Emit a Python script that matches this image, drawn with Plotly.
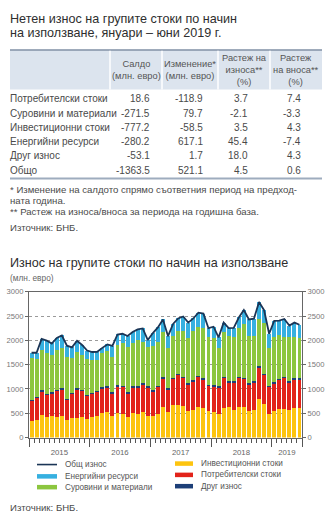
import plotly.graph_objects as go

W, H = 329, 531
FONT = "Liberation Sans, Arial, sans-serif"

# ---------------- table data ----------------
row_labels = ["Потребителски стоки", "Суровини и материали", "Инвестиционни стоки",
              "Енергийни ресурси", "Друг износ", "Общо"]
saldo = [18.6, -271.5, -777.2, -280.2, -53.1, -1363.5]
change = [-118.9, 79.7, -58.5, 617.1, 1.7, 521.1]
exp_growth = [3.7, -2.1, 3.5, 45.4, 18.0, 4.5]
imp_growth = [7.4, -3.3, 4.3, -7.4, 4.3, 0.6]
col_headers = ["Салдо<br>(млн. евро)", "Изменение*<br>(млн. евро)",
               "Растеж на<br>износа**<br>(%)", "Растеж<br>на вноса**<br>(%)"]

# ---------------- chart data ----------------
years = ["2015", "2016", "2017", "2018", "2019"]
months = [f"{y}-{m:02d}" for y in years for m in range(1, 13)][:54]

invest = [330, 370, 470, 415, 435, 430, 440, 355, 395, 410, 430, 390,
          420, 440, 495, 525, 440, 500, 490, 420, 505, 475, 520, 435,
          440, 490, 635, 520, 675, 670, 655, 540, 575, 620, 605, 540,
          520, 490, 600, 620, 560, 620, 620, 540, 575, 790, 695, 490,
          540, 595, 595, 560, 600, 600]
consumer = [438, 456, 485, 472, 479, 541, 560, 433, 511, 585, 542, 471,
            483, 505, 519, 511, 477, 560, 559, 496, 530, 559, 583, 601,
            515, 564, 592, 480, 543, 624, 582, 565, 584, 633, 592, 530,
            544, 546, 638, 527, 579, 618, 597, 564, 565, 661, 598, 560,
            584, 597, 643, 579, 597, 598]
other = [12, 14, 15, 13, 16, 14, 15, 12, 14, 15, 13, 14,
         12, 15, 16, 14, 13, 15, 16, 14, 15, 16, 17, 14,
         15, 16, 18, 15, 17, 16, 18, 15, 16, 17, 18, 15,
         16, 14, 17, 18, 16, 17, 18, 16, 15, 19, 17, 15,
         16, 18, 17, 16, 18, 17]
raw = [850, 785, 830, 835, 765, 815, 825, 850, 710, 760, 715, 735,
       685, 640, 715, 725, 735, 825, 885, 940, 890, 955, 855, 820,
       910, 905, 935, 820, 860, 890, 935, 920, 1015, 995, 1030, 990,
       960, 800, 920, 925, 920, 990, 1095, 970, 935, 975, 1040, 785,
       935, 900, 820, 905, 845, 825]
energy = [115, 120, 230, 260, 240, 250, 260, 240, 225, 220, 205, 180,
          160, 165, 100, 140, 220, 220, 185, 220, 230, 220, 270, 135,
          270, 290, 250, 250, 241, 250, 300, 325, 260, 305, 305, 175,
          240, 210, 190, 160, 180, 225, 295, 340, 355, 345, 270, 285,
          325, 295, 365, 245, 305, 280]
total = [1745, 1745, 2030, 1995, 1935, 2050, 2100, 1890, 1855, 1990, 1905, 1790,
         1760, 1765, 1845, 1915, 1885, 2120, 2135, 2090, 2170, 2225, 2245, 2005,
         2150, 2265, 2430, 2085, 2336, 2450, 2490, 2365, 2450, 2570, 2550, 2250,
         2280, 2060, 2365, 2250, 2255, 2470, 2625, 2430, 2445, 2790, 2620, 2135,
         2400, 2405, 2440, 2305, 2365, 2320]
y_ticks = [0, 500, 1000, 1500, 2000, 2500, 3000]

C_INV, C_CON, C_OTH = "#fdc40f", "#e2231a", "#1d3f78"
C_RAW, C_ENE, C_TOT = "#8cc63f", "#36b0e0", "#1b3556"

# ---------------- helpers (pixel -> paper) ----------------
def px(x):
    return x / W

def py(y):
    return 1 - y / H

annotations = []
shapes = []

def text(x, y, s, size, color="#4a4a4a", xanchor="left", align="left"):
    annotations.append(dict(x=px(x), y=py(y), xref="paper", yref="paper", text=s,
                            showarrow=False, xanchor=xanchor, yanchor="middle",
                            align=align, borderpad=0,
                            font=dict(size=size, color=color, family=FONT)))

def rect(x0, y0, x1, y1, color):
    shapes.append(dict(type="rect", xref="paper", yref="paper", x0=px(x0), x1=px(x1),
                       y0=py(y0), y1=py(y1), fillcolor=color, line=dict(width=0), layer="below"))

def hline(x0, x1, y, color, width):
    shapes.append(dict(type="line", xref="paper", yref="paper", x0=px(x0), x1=px(x1),
                       y0=py(y), y1=py(y), line=dict(color=color, width=width)))

def vline(x, y0, y1, color, width):
    shapes.append(dict(type="line", xref="paper", yref="paper", x0=px(x), x1=px(x),
                       y0=py(y0), y1=py(y1), line=dict(color=color, width=width)))

# ---------------- title + table ----------------
text(9, 15, "Нетен износ на групите стоки по начин", 12.6, "#2e2e2e")
text(9, 29, "на използване, януари – юни 2019 г.", 12.6, "#2e2e2e")

rect(10, 47, 322, 87, "#dce4ee")
hline(10, 322, 46.8, "#7f8fa5", 1.6)
for xs in [110, 162, 218, 270]:
    vline(xs, 47.5, 87, "#ffffff", 1.5)

col_centers = [136, 190, 244, 296]
for cx, h in zip(col_centers, col_headers):
    text(cx, 67.5, h, 9.3, "#555555", xanchor="center", align="center")

col_right = [151, 204, 249, 302]
row_y0, row_dy = 96.5, 14.5
for i, lab in enumerate(row_labels):
    yy = row_y0 + i * row_dy
    text(9, yy, lab, 10, "#4a4a4a")
    for cr, col in zip(col_right, [saldo, change, exp_growth, imp_growth]):
        text(cr, yy, f"{col[i]:.1f}", 10, "#4a4a4a", xanchor="right", align="right")
hline(10, 322, 177.5, "#9eacbe", 2)

text(9, 188.5, "* Изменение на салдото спрямо съответния период на предход-", 9.6)
text(9, 199.5, "ната година.", 9.6)
text(9, 211, "** Растеж на износа/вноса за периода на годишна база.", 9.6)
text(9, 227.5, "Източник: БНБ.", 9.6)

text(9, 263, "Износ на групите стоки по начин на използване", 12.6, "#2e2e2e")
text(9, 279, "(млн. евро)", 8.3, "#666666")

# ---------------- chart ----------------
xi = list(range(len(months)))
year_of = [m[:4] for m in months]
year_centers = [sum(i for i in xi if year_of[i] == y) / year_of.count(y) for y in years]
year_bounds = [-0.5] + [i - 0.5 for i in xi[1:] if year_of[i] != year_of[i - 1]] + [len(xi) - 0.5]

fig = go.Figure()
for name, vals, col in [("Инвестиционни стоки", invest, C_INV),
                        ("Потребителски стоки", consumer, C_CON),
                        ("Друг износ", other, C_OTH),
                        ("Суровини и материали", raw, C_RAW),
                        ("Енергийни ресурси", energy, C_ENE)]:
    fig.add_trace(go.Bar(x=xi, y=vals, name=name, marker=dict(color=col, line=dict(width=0)),
                         showlegend=False, hovertext=months))
fig.add_trace(go.Scatter(x=xi, y=total, name="Общ износ", mode="lines",
                         line=dict(color=C_TOT, width=1.8), xaxis="x2", yaxis="y2",
                         showlegend=False, hovertext=months))

xdom = [px(29), px(302)]
ydom = [py(441), py(292.7)]
xr = [-0.5, len(xi) - 0.5]

fig.update_layout(
    width=W, height=H, autosize=False,
    margin=dict(l=0, r=0, t=0, b=0, pad=0),
    paper_bgcolor="white", plot_bgcolor="white",
    barmode="stack", bargap=0.22,
    font=dict(family=FONT, color="#666666"),
    xaxis=dict(domain=xdom, range=xr, tickmode="array", tickvals=year_centers, ticktext=years,
               ticks="", showgrid=False, zeroline=False, showline=True, linecolor="#666666",
               linewidth=1, mirror=True, tickfont=dict(size=7.8, color="#666666"),
               ticklabelstandoff=7,
               minor=dict(ticks="outside", ticklen=4, tick0=-0.5, dtick=1,
                          tickcolor="#555555", tickwidth=1, showgrid=False)),
    xaxis2=dict(overlaying="x", anchor="y", side="bottom", range=xr, tickmode="array",
                tickvals=year_bounds, ticks="outside", ticklen=8, tickwidth=1, tickcolor="#555555",
                showticklabels=False, showgrid=False, zeroline=False, showline=False),
    yaxis=dict(domain=ydom, range=[0, 3000], tickmode="array", tickvals=y_ticks,
               showgrid=True, gridcolor="#9a9a9a", griddash="dot", gridwidth=1,
               zeroline=False, showline=True, linecolor="#666666", linewidth=1,
               ticks="outside", ticklen=3, tickcolor="#666666",
               tickfont=dict(size=7.6, color="#777777")),
    yaxis2=dict(overlaying="y", anchor="x", side="right", range=[0, 3000], tickmode="array",
                tickvals=y_ticks, showgrid=False, zeroline=False, showline=True,
                linecolor="#666666", linewidth=1, ticks="outside", ticklen=3, tickcolor="#666666",
                tickfont=dict(size=7.6, color="#777777")),
)

# ---------------- manual legend ----------------
left_items = [("Общ износ", C_TOT, "line"), ("Енергийни ресурси", C_ENE, "rect"),
              ("Суровини и материали", C_RAW, "rect")]
right_items = [("Инвестиционни стоки", C_INV, "rect"), ("Потребителски стоки", C_CON, "rect"),
               ("Друг износ", C_OTH, "rect")]
for items, x0, x1, xt, ys in [(left_items, 37, 57, 64, [468.5, 480.5, 491.5]),
                              (right_items, 175, 193, 200, [467.5, 479, 490.5])]:
    for (lab, col, kind), yy in zip(items, ys):
        if kind == "line":
            hline(x0, x1, yy, col, 1.6)
        else:
            shapes.append(dict(type="rect", xref="paper", yref="paper", x0=px(x0), x1=px(x1),
                               y0=py(yy + 2.3), y1=py(yy - 2.3), fillcolor=col, line=dict(width=0)))
        text(xt, yy, lab, 8.2, "#555555")

text(9, 512, "Източник: БНБ.", 9.6)

fig.update_layout(annotations=annotations, shapes=shapes)
fig.write_html("out.html")
